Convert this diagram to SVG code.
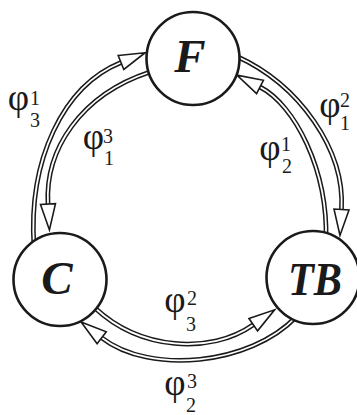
<svg xmlns="http://www.w3.org/2000/svg" width="357" height="415" viewBox="0 0 357 415">
<style>
.node circle{fill:#fff;stroke:#1a1a1a;stroke-width:2.6}
.lbl{font-family:"Liberation Serif",serif;font-weight:bold;font-style:italic;font-size:47px;fill:#1a1a1a;text-anchor:middle}
.o{fill:none;stroke:#1a1a1a;stroke-width:4.8}
.i{fill:none;stroke:#fff;stroke-width:1.8}
.phi{font-family:"Liberation Serif",serif;font-size:37px;fill:#1a1a1a;text-anchor:middle}
.idx{font-family:"Liberation Serif",serif;font-size:20px;fill:#1a1a1a;text-anchor:middle}
</style>
<defs>
<marker id="ah" markerUnits="userSpaceOnUse" markerWidth="32" markerHeight="20" viewBox="-3 -10 32 20" refX="0" refY="0" orient="auto" overflow="visible">
<path d="M0,-7.5 L26,0 L0,7.5 Z" fill="#fff" stroke="#1a1a1a" stroke-width="1.6"/>
</marker>
</defs>
<g id="connectors">
<g id="e1"><path class="o" d="M34,247 C28,160 63,86 121,62.5"/><path class="i" marker-end="url(#ah)" d="M34,247 C28,160 63,86 121,62.5"/></g>
<g id="e2"><path class="o" d="M150,72 C80,95 45,150 48,204"/><path class="i" marker-end="url(#ah)" d="M150,72 C80,95 45,150 48,204"/></g>
<g id="e3"><path class="o" d="M236,56 C300,85 345,150 341.5,209.5"/><path class="i" marker-end="url(#ah)" d="M236,56 C300,85 345,150 341.5,209.5"/></g>
<g id="e4"><path class="o" d="M326,240 C328,170 295,105 260,87"/><path class="i" marker-end="url(#ah)" d="M326,240 C328,170 295,105 260,87"/></g>
<g id="e5"><path class="o" d="M95,308 C140,350 210,355 253.3,324.7"/><path class="i" marker-end="url(#ah)" d="M95,308 C140,350 210,355 253.3,324.7"/></g>
<g id="e6"><path class="o" d="M296,317 C250,365 150,375 101.7,337.8"/><path class="i" marker-end="url(#ah)" d="M296,317 C250,365 150,375 101.7,337.8"/></g>
</g>
<g id="F" class="node"><circle cx="193" cy="58.5" r="46.5"/><text class="lbl" x="190" y="72">F</text></g>
<g id="C" class="node"><circle cx="60" cy="279.5" r="46.5"/><text class="lbl" x="57" y="294">C</text></g>
<g id="TB" class="node"><circle cx="313" cy="277.5" r="46.5"/><text class="lbl" x="315" y="295" textLength="54" lengthAdjust="spacingAndGlyphs">TB</text></g>
<g id="labels">
<text class="phi" x="18.5" y="110">φ</text><text class="idx" x="35" y="105">1</text><text class="idx" x="35" y="127">3</text>
<text class="phi" x="93.5" y="149">φ</text><text class="idx" x="108" y="143">3</text><text class="idx" x="109" y="165">1</text>
<text class="phi" x="330" y="117">φ</text><text class="idx" x="345" y="107">2</text><text class="idx" x="345" y="130">1</text>
<text class="phi" x="270" y="160">φ</text><text class="idx" x="286" y="151">1</text><text class="idx" x="287" y="173">2</text>
<text class="phi" x="175" y="312">φ</text><text class="idx" x="192" y="305">2</text><text class="idx" x="191" y="331">3</text>
<text class="phi" x="175" y="395">φ</text><text class="idx" x="192" y="388">3</text><text class="idx" x="191" y="412">2</text>
</g>
</svg>
